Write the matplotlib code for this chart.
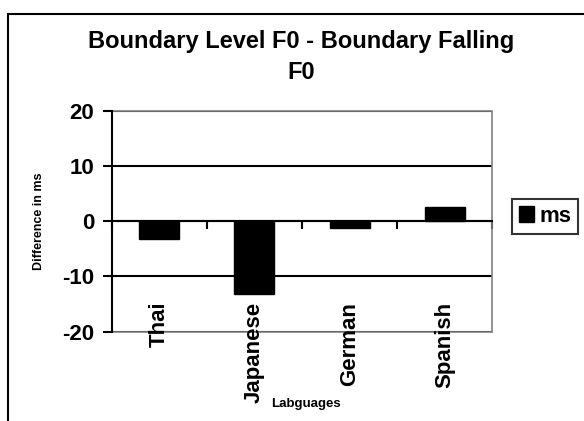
import matplotlib
matplotlib.use("Agg")
import matplotlib.pyplot as plt
from matplotlib.patches import Rectangle
import numpy as np

languages = ['Thai', 'Japanese', 'German', 'Spanish']
diff_ms = [-3.3, -13.1, -1.3, 2.6]
series_name = 'ms'
y_ticks = [-20, -10, 0, 10, 20]

plt.rcParams['font.family'] = ['Liberation Sans', 'DejaVu Sans']
plt.rcParams['font.weight'] = 'bold'

fig = plt.figure(figsize=(5.84, 4.21), dpi=100)
ax = fig.add_axes([0.1913, 0.2121, 0.6519, 0.525])

x = np.arange(len(languages))
ax.bar(x, diff_ms, width=0.42, color='black', edgecolor='black', label=series_name, zorder=3)

ax.set_xlim(-0.5, len(languages) - 0.5)
ax.set_ylim(-20, 20)
ax.set_yticks(y_ticks)
ax.set_yticklabels([str(v) for v in y_ticks], fontsize=16, fontweight='bold')
ax.tick_params(axis='y', direction='out', length=6.5, width=1.5, pad=6)

# category boundary ticks on the zero line
ax.set_xticks(np.arange(len(languages) + 1) - 0.5)
ax.set_xticklabels([])
ax.tick_params(axis='x', direction='out', length=6, width=1.5)

ax.grid(axis='y', color='black', linewidth=1.5, zorder=1)

ax.spines['bottom'].set_position(('data', 0))
ax.spines['bottom'].set_linewidth(1.5)
ax.spines['bottom'].set_zorder(4)
ax.spines['left'].set_linewidth(1.5)
ax.spines['left'].set_zorder(5)
for s in ['top', 'right']:
    ax.spines[s].set_visible(False)
ax.add_patch(Rectangle((0, 0), 1, 1, transform=ax.transAxes, fill=False,
                       edgecolor='#808080', linewidth=1.2, zorder=4, clip_on=False))

for xi, name in zip(x, languages):
    ax.text(xi, -14.6, name, rotation=90, ha='center', va='top',
            fontsize=16, fontweight='bold', zorder=6)

ax.set_ylabel('Difference in ms', fontsize=9, fontweight='bold')
ax.yaxis.set_label_coords(-0.176, 0.5)
ax.set_xlabel('Labguages', fontsize=9.5, fontweight='bold')
ax.xaxis.set_label_coords(0.51, -0.30)

fig.text(0.515, 0.865, 'Boundary Level F0 - Boundary Falling\nF0', ha='center', va='center',
         fontsize=17, fontweight='bold', linespacing=1.45)

leg = ax.legend(loc='center left', bbox_to_anchor=(512 / 584, 1 - 216.5 / 421),
                bbox_transform=fig.transFigure, fontsize=16, frameon=True, fancybox=False,
                handlelength=0.7, handleheight=0.7, handletextpad=0.25,
                borderpad=0.3, borderaxespad=0)
leg.get_frame().set_edgecolor('black')
leg.get_frame().set_linewidth(1.5)
for t in leg.get_texts():
    t.set_fontweight('bold')

fig.patches.append(Rectangle((8 / 584, -0.1), 2, 1.1 - 14 / 421, transform=fig.transFigure,
                             fill=False, edgecolor='black', linewidth=1.5))

fig.savefig('out.png', dpi=100)
plt.close(fig)
